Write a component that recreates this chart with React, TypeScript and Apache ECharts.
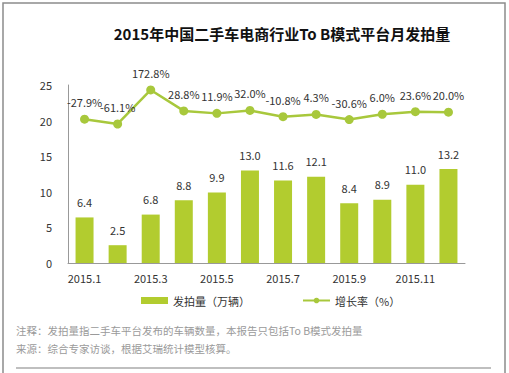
import React, { useEffect, useRef } from "react";
import * as echarts from "echarts";

const months = ["2015.1", "2015.2", "2015.3", "2015.4", "2015.5", "2015.6", "2015.7", "2015.8", "2015.9", "2015.10", "2015.11", "2015.12"];
const volume = [6.4, 2.5, 6.8, 8.8, 9.9, 13.0, 11.6, 12.1, 8.4, 8.9, 11.0, 13.2];
const growth = [-27.9, -61.1, 172.8, 28.8, 11.9, 32.0, -10.8, 4.3, -30.6, 6.0, 23.6, 20.0];
const title = "2015年中国二手车电商行业To B模式平台月发拍量";
const note1 = "注释：发拍量指二手车平台发布的车辆数量，本报告只包括To B模式发拍量";
const note2 = "来源：综合专家访谈，根据艾瑞统计模型核算。";

const FONT = '"Noto Sans CJK SC", "Open Sans", sans-serif';

export default function App() {
  const ref = useRef<HTMLDivElement>(null);
  useEffect(() => {
    const chart = echarts.init(ref.current!, null, { renderer: "svg" });
    chart.setOption({
      animation: false,
      backgroundColor: "#fff",
      textStyle: { fontFamily: FONT },
      grid: { left: 68, right: 44, top: 85, bottom: 110 },
      legend: {
        left: 136,
        top: 290,
        itemGap: 52,
        itemWidth: 27,
        itemHeight: 7,
        textStyle: { fontSize: 11, color: "#333", fontFamily: FONT },
        data: [
          { name: "发拍量（万辆）", icon: "rect" },
          { name: "增长率（%）" },
        ],
      },
      xAxis: {
        type: "category",
        data: months,
        axisLine: { lineStyle: { color: "#999" } },
        axisTick: { show: false },
        axisLabel: { interval: 1, color: "#333", fontSize: 11, margin: 9, fontFamily: FONT },
      },
      yAxis: [
        {
          type: "value",
          min: 0,
          max: 25,
          interval: 5,
          axisLine: { show: true, lineStyle: { color: "#999" } },
          axisTick: { show: false },
          splitLine: { show: false },
          axisLabel: { color: "#333", fontSize: 11, margin: 16, fontFamily: FONT },
        },
        {
          type: "value",
          min: -1017,
          max: 207,
          show: false,
          splitLine: { show: false },
        },
      ],
      series: [
        {
          name: "发拍量（万辆）",
          type: "bar",
          data: volume,
          barWidth: 18,
          itemStyle: { color: "#b2cc2f" },
          label: {
            show: true,
            position: "top",
            distance: 10,
            color: "#333",
            fontSize: 11,
            fontFamily: FONT,
            formatter: (p: any) => p.value.toFixed(1),
          },
        },
        {
          name: "增长率（%）",
          type: "line",
          yAxisIndex: 1,
          data: growth,
          symbol: "circle",
          symbolSize: 9,
          lineStyle: { color: "#a8c83c", width: 2.5 },
          itemStyle: { color: "#a8c83c" },
          label: {
            show: true,
            position: "top",
            distance: 7,
            color: "#333",
            fontSize: 11,
            fontFamily: FONT,
            formatter: (p: any) => p.value.toFixed(1) + "%",
          },
        },
      ],
      graphic: [
        {
          type: "polyline",
          shape: { points: [[3, 373], [3, 3], [505, 3], [505, 373]] },
          style: { stroke: "#8c8c8c", lineWidth: 1.5, fill: "none" },
          silent: true,
        },
        {
          type: "line",
          shape: { x1: 16, y1: 368, x2: 491, y2: 368 },
          style: { stroke: "#aaa", lineWidth: 1.5 },
          silent: true,
        },
        {
          type: "text",
          x: 282,
          y: 33,
          style: {
            text: title,
            fontSize: 15,
            fontWeight: "bold",
            fill: "#111",
            fontFamily: FONT,
            textAlign: "center",
            textVerticalAlign: "middle",
          },
        },
        {
          type: "text",
          x: 16,
          y: 330,
          style: { text: note1, fontSize: 10.5, fill: "#9a9a9a", fontFamily: FONT, textVerticalAlign: "middle" },
        },
        {
          type: "text",
          x: 16,
          y: 348,
          style: { text: note2, fontSize: 10.5, fill: "#9a9a9a", fontFamily: FONT, textVerticalAlign: "middle" },
        },
      ],
    });
    return () => chart.dispose();
  }, []);
  return <div ref={ref} style={{ position: "absolute", left: 0, top: 0, width: 509, height: 373 }} />;
}
